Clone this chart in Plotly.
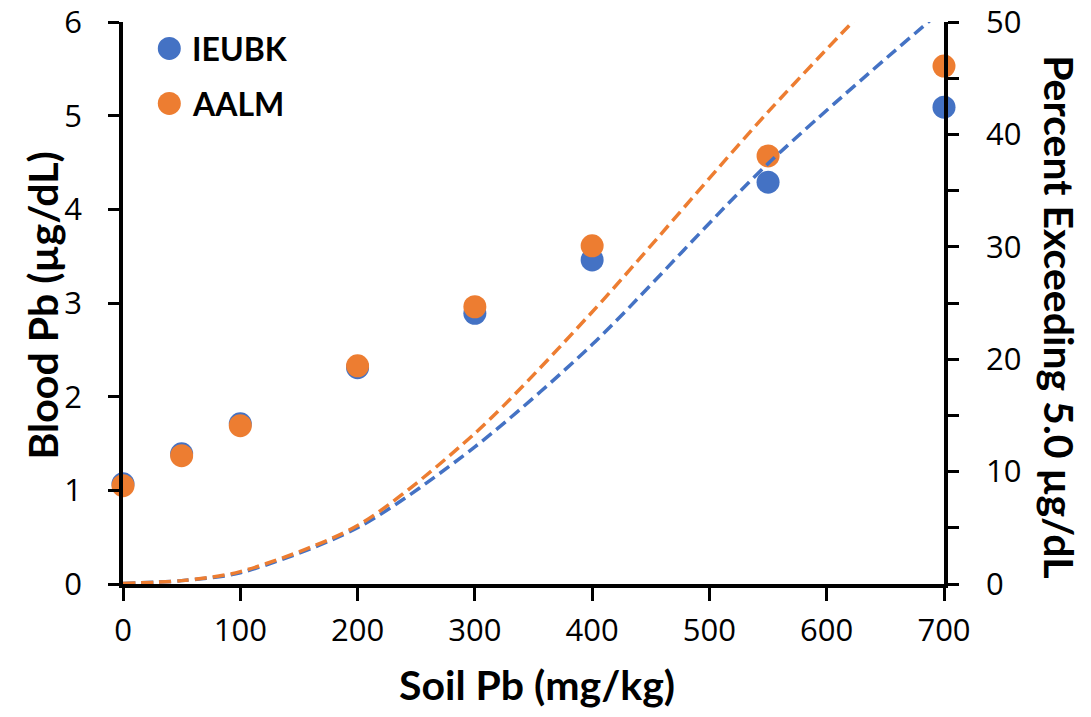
import plotly.graph_objects as go

# ---- data ----
soil_pb = [0, 50, 100, 200, 300, 400, 550, 700]
blood_ieubk = [1.07, 1.39, 1.71, 2.31, 2.89, 3.46, 4.29, 5.09]
blood_aalm = [1.05, 1.37, 1.69, 2.33, 2.96, 3.61, 4.57, 5.53]
pct_ieubk = [0.05, 0.3, 1.0, 5.0, 12.2, 21.3, 37.4, 51.2]
pct_aalm = [0.05, 0.3, 1.1, 5.2, 13.4, 24.2, 42.0, 58.5]
series_names = ["IEUBK", "AALM"]
colors = ["#4472C4", "#ED7D31"]

x_ticks = [0, 100, 200, 300, 400, 500, 600, 700]
left_ticks = [0, 1, 2, 3, 4, 5, 6]
right_ticks = [0, 10, 20, 30, 40, 50]

TICK_FONT = dict(family="Open Sans", size=31, color="black")
TITLE_FONT = dict(family="Lato", size=41, color="black", weight="bold")

fig = go.Figure()

# percent-exceeding dashed lines (secondary axis)
for name, vals, col in zip(series_names, [pct_ieubk, pct_aalm], colors):
    fig.add_trace(go.Scatter(
        x=soil_pb, y=vals, mode="lines", yaxis="y2", showlegend=False,
        line=dict(color=col, width=3.5, dash="12px,6px", shape="spline", smoothing=0.8),
        name=name + " % exceeding"))

# blood Pb markers (primary axis)
for name, vals, col in zip(series_names, [blood_ieubk, blood_aalm], colors):
    fig.add_trace(go.Scatter(
        x=soil_pb, y=vals, mode="markers", name=name, showlegend=False,
        marker=dict(color=col, size=23, line=dict(width=0)), cliponaxis=False))

fig.update_layout(
    width=1083, height=709,
    margin=dict(l=114.7, r=147, t=13.7, b=133, autoexpand=False),
    paper_bgcolor="white", plot_bgcolor="white",
    showlegend=False,
    xaxis=dict(range=[0, 700], tickvals=x_ticks, showgrid=False, zeroline=False,
               showline=True, linecolor="black", linewidth=3.5, automargin=False,
               ticks="outside", ticklen=13, tickwidth=3, tickcolor="black",
               tickfont=TICK_FONT, ticklabelstandoff=3, ticklabeloverflow="allow"),
    yaxis=dict(range=[0, 6], tickvals=left_ticks, showgrid=False, zeroline=False,
               showline=True, linecolor="black", linewidth=3.5, automargin=False,
               ticks="outside", ticklen=11, tickwidth=3, tickcolor="black",
               tickfont=TICK_FONT, ticklabelstandoff=20, ticklabeloverflow="allow"),
    yaxis2=dict(range=[0, 50], tickvals=right_ticks, overlaying="y", side="right",
                showgrid=False, zeroline=False, automargin=False,
                showline=True, linecolor="black", linewidth=3.5,
                ticks="outside", ticklen=11, tickwidth=3, tickcolor="black",
                minor=dict(dtick=5, ticks="outside", ticklen=11, tickwidth=3, tickcolor="black", showgrid=False),
                tickfont=TICK_FONT, ticklabelstandoff=21, ticklabeloverflow="allow"),
)

# axis titles
fig.add_annotation(text="Soil Pb (mg/kg)", xref="paper", yref="paper", x=0.5044, y=-0.1796,
                   showarrow=False, xanchor="center", yanchor="middle", font=TITLE_FONT)
fig.add_annotation(text="Blood Pb (µg/dL)", xref="paper", yref="paper", x=-0.0983, y=0.496,
                   showarrow=False, textangle=-90, xanchor="center", yanchor="middle", font=TITLE_FONT)
fig.add_annotation(text="Percent Exceeding 5.0 µg/dL", xref="paper", yref="paper", x=1.1413, y=0.4766,
                   showarrow=False, textangle=90, xanchor="center", yanchor="middle", font=TITLE_FONT)

# legend (drawn manually to allow large markers)
legend_y = [0.953, 0.855]
for name, col, ly in zip(series_names, colors, legend_y):
    fig.add_shape(type="circle", xref="paper", yref="paper", xsizemode="pixel", ysizemode="pixel",
                  xanchor=0.0564, yanchor=ly, x0=-11.5, x1=11.5, y0=-11.5, y1=11.5,
                  fillcolor=col, line=dict(width=0))
    fig.add_annotation(text=name, xref="paper", yref="paper", x=0.082, y=ly, showarrow=False,
                       xanchor="left", yanchor="middle",
                       font=dict(family="Lato", size=32, color="black", weight="bold"))

fig.write_html("out.html")
